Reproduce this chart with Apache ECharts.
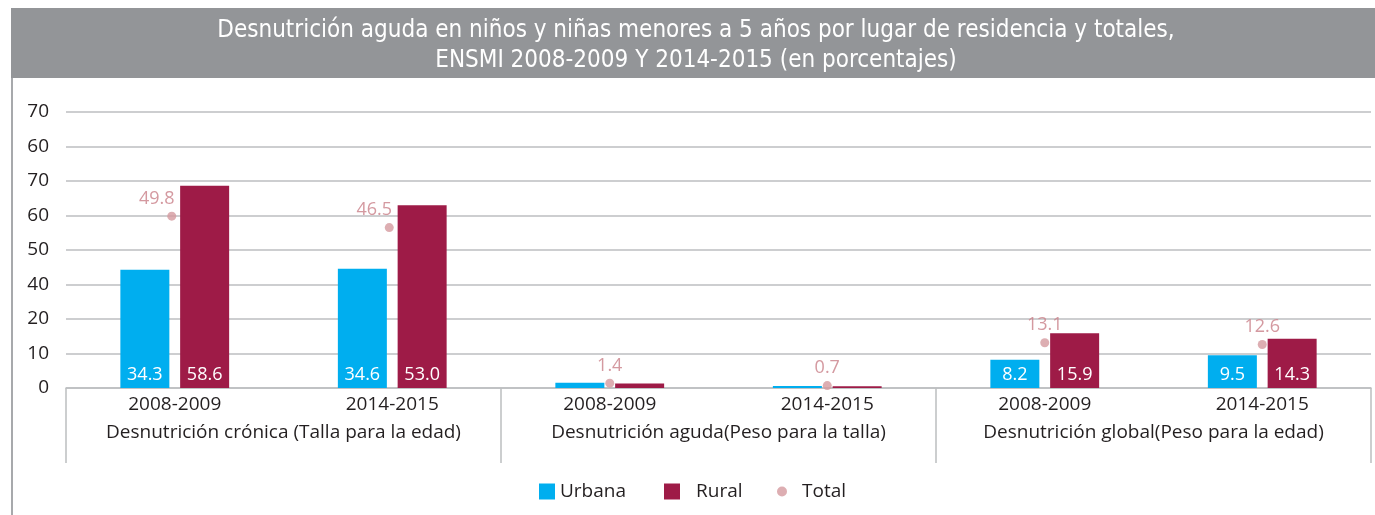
<!DOCTYPE html>
<html>
<head>
<meta charset="utf-8">
<script src="https://cdn.jsdelivr.net/npm/echarts@6/dist/echarts.min.js"></script>
<style>
html,body{margin:0;padding:0;background:#fff;}
#chart{width:1375px;height:515px;}
</style>
</head>
<body>
<div id="chart"></div>
<script>
const years = ['2008-2009','2014-2015','2008-2009','2014-2015','2008-2009','2014-2015'];
const groups = ['Desnutrición crónica (Talla para la edad)','Desnutrición aguda(Peso para la talla)','Desnutrición global(Peso para la edad)'];
const urbana = [34.3, 34.6, 1.5, 0.6, 8.2, 9.5];
const rural = [58.6, 53.0, 1.3, 0.5, 15.9, 14.3];
const total = [49.8, 46.5, 1.4, 0.7, 13.1, 12.6];
const yTickLabels = ['0','10','20','40','50','60','70','60','70'];

const BODY = "'Open Sans', 'Noto Sans', sans-serif";
const TEXT = '#231f20';
const GRID = '#bcbec0';

const chart = echarts.init(document.getElementById('chart'), null, {renderer:'canvas'});
const option = {
  animation:false,
  backgroundColor:'#ffffff',
  graphic:[
    {type:'rect', z:-10, shape:{x:11,y:8,width:1364,height:70}, style:{fill:'#939598'}},
    {type:'rect', z:-10, shape:{x:11,y:78,width:2,height:437}, style:{fill:'#a7a9ac'}}
  ],
  title:{
    text:'Desnutrición aguda en niños y niñas menores a 5 años por lugar de residencia y totales,\nENSMI 2008-2009 Y 2014-2015 (en porcentajes)',
    left:691, top:11, textAlign:'center',
    textStyle:{color:'#ffffff', fontFamily:"'Liberation Sans Narrow','DejaVu Sans Condensed',sans-serif", fontWeight:'normal', fontSize:24, lineHeight:30}
  },
  legend:[
    {data:[{name:'Urbana', icon:'rect'}], left:534, top:477, itemWidth:16, itemHeight:16,
     textStyle:{color:TEXT, fontSize:19, fontFamily:BODY}},
    {data:[{name:'Rural', icon:'rect'}], left:659, top:477, itemWidth:16, itemHeight:16,
     textStyle:{color:TEXT, fontSize:19, fontFamily:BODY, padding:[0,0,0,11]}},
    {data:[{name:'Total', icon:'circle'}], left:772, top:477, itemWidth:10, itemHeight:10,
     textStyle:{color:TEXT, fontSize:19, fontFamily:BODY, padding:[0,0,0,10]}}
  ],
  grid:{left:66, right:4, top:112, bottom:127, containLabel:false},
  xAxis:[
    {type:'category', data:years, position:'bottom',
     axisLine:{show:true, lineStyle:{color:GRID, width:1.5}},
     axisTick:{show:false},
     axisLabel:{color:TEXT, fontSize:19, fontFamily:BODY, margin:7, interval:0}},
    {type:'category', data:groups, position:'bottom', offset:0,
     axisLine:{show:false},
     axisTick:{show:true, length:75, interval:0, lineStyle:{color:GRID, width:1.5}},
     axisLabel:{color:TEXT, fontSize:19, fontFamily:BODY, margin:35, interval:0}}
  ],
  yAxis:{
    type:'value', min:0, max:80, interval:10,
    axisLine:{show:false}, axisTick:{show:false},
    splitLine:{lineStyle:{color:GRID, width:1.5}},
    axisLabel:{color:TEXT, fontSize:19, fontFamily:BODY, margin:17,
      formatter:(v)=> yTickLabels[Math.round(v/10)]}
  },
  series:[
    {name:'Urbana', type:'bar', data:urbana, barWidth:49, barGap:'22%',
     itemStyle:{color:'#00aeef'},
     label:{show:true, position:'insideBottom', distance:4, color:'#ffffff', fontSize:18, fontFamily:BODY,
       formatter:(p)=> p.value>=5 ? p.value.toFixed(1) : ''}},
    {name:'Rural', type:'bar', data:rural, barWidth:49, barGap:'22%',
     itemStyle:{color:'#9e1b47'},
     label:{show:true, position:'insideBottom', distance:4, color:'#ffffff', fontSize:18, fontFamily:BODY,
       formatter:(p)=> p.value>=5 ? p.value.toFixed(1) : ''}},
    {name:'Total', type:'scatter', symbol:'circle', symbolSize:9, z:5,
     data: total.map((v,i)=> i<2 ? {value:v, symbolOffset:[-3,0], label:{offset:[-15,0]}} : v),
     itemStyle:{color:'#d49a9f'},
     label:{show:true, position:'top', distance:4, color:'#c98088', fontSize:18, fontFamily:BODY,
       formatter:(p)=> Number(p.value).toFixed(1)}}
  ]
};
chart.setOption(option);
</script>
</body>
</html>
